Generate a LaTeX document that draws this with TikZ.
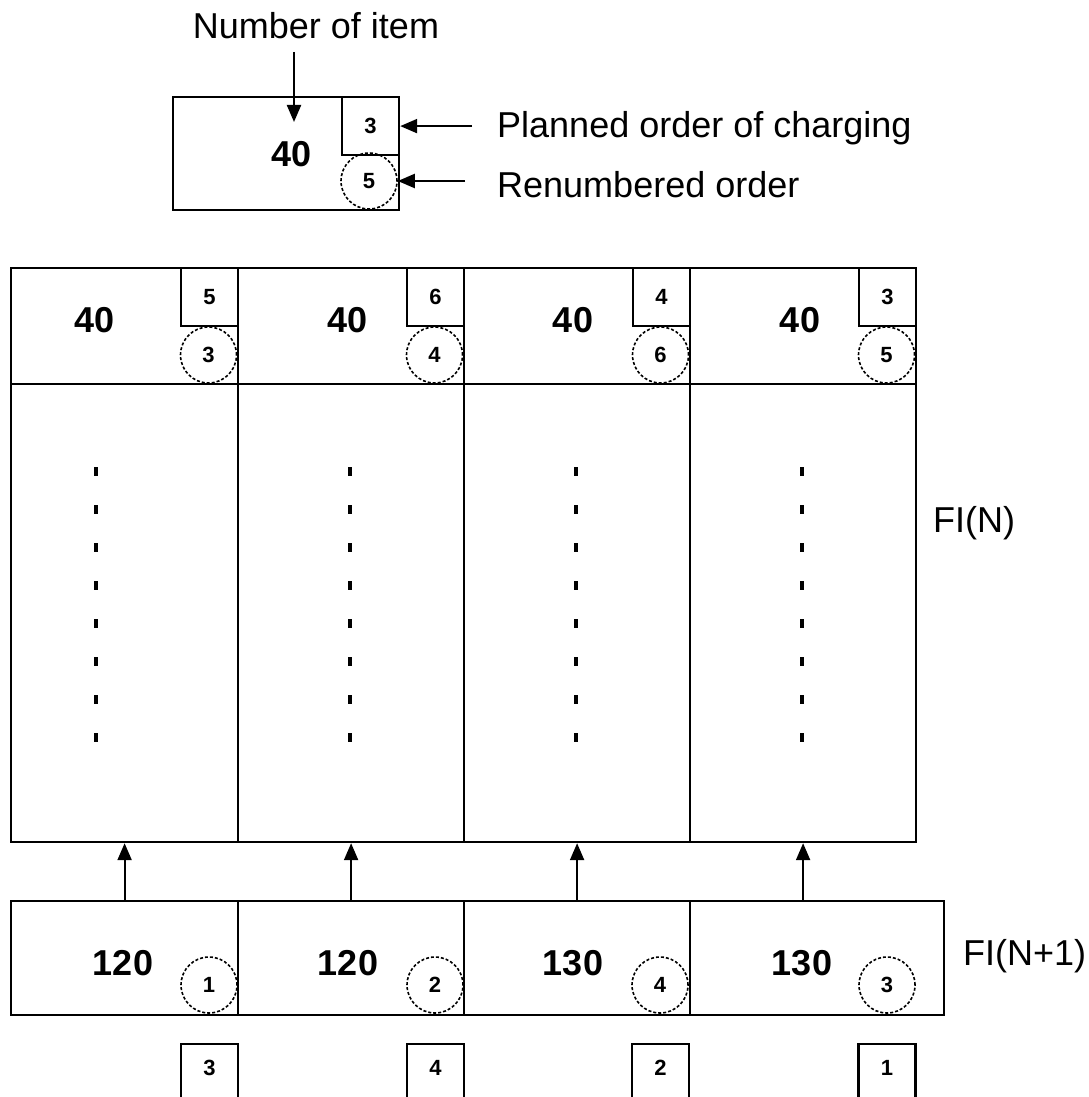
\documentclass[tikz,border=0pt]{standalone}
\usepackage{fontspec}
\setmainfont{Liberation Sans}
\usetikzlibrary{arrows.meta}
\tikzset{
  box/.style={draw, line width=2.2pt, rectangle, inner sep=0pt},
  sqbox/.style={box, minimum width=57pt, minimum height=58pt, font=\bfseries\fontsize{22}{24}\selectfont},
  dcirc/.style={draw, circle, line width=1.6pt, dash pattern=on 3pt off 2pt, inner sep=0pt, minimum size=56pt, font=\bfseries\fontsize{22}{24}\selectfont},
  bignum/.style={inner sep=0pt, font=\bfseries\fontsize{36}{40}\selectfont},
  lbl/.style={inner sep=0pt, font=\fontsize{36}{42}\selectfont},
  arr/.style={line width=2.2pt, -{Triangle[length=17pt,width=14pt]}},
  dotmark/.style={fill=black, draw=none, minimum width=4pt, minimum height=9pt, inner sep=0pt}
}
\begin{document}
\begin{tikzpicture}[x=1pt,y=-1pt]
\useasboundingbox (0,0) rectangle (1088,1097);
\fill[white] (0,0) rectangle (1088,1097);

% ---------- legend ----------
\node[lbl, anchor=base] (ni) at (316,39) {Number of item};
\node[box, minimum width=226pt, minimum height=113pt, anchor=north west] (lbox) at (172,96) {};
\node[sqbox, anchor=north east] (lsq) at (lbox.north east) {3};
\node[dcirc] (lcirc) at (369,181) {5};
\node[bignum] (l40) at (292,154) {40};
\coordinate (niA) at (294,52);
\coordinate (niB) at (294,122);
\draw[arr] (niA) -- (niB);
\node[lbl, anchor=base west] (po) at (497,138) {Planned order of charging};
\node[lbl, anchor=base west] (ro) at (497,197) {Renumbered order};
\coordinate (poA) at (472,124);
\coordinate (roA) at (465,181);
\draw[arr] (poA |- lsq.east) -- (lsq.east);
\draw[arr] (roA |- lcirc.east) -- (lcirc.east);

% ---------- FI(N) ----------
\node[box, minimum width=227pt, minimum height=574pt, anchor=north west] (c1) at (10,267) {};
\node[box, minimum width=226pt, minimum height=574pt, anchor=north west] (c2) at (237,267) {};
\node[box, minimum width=226pt, minimum height=574pt, anchor=north west] (c3) at (463,267) {};
\node[box, minimum width=226pt, minimum height=574pt, anchor=north west] (c4) at (689,267) {};
\coordinate (hl) at (10,384);
\coordinate (hr) at (915,384);
\draw[line width=2.2pt] (hl) -- (hr);

\node[sqbox, anchor=north east] (s1) at (c1.north east) {5};
\node[sqbox, anchor=north east] (s2) at (c2.north east) {6};
\node[sqbox, anchor=north east] (s3) at (c3.north east) {4};
\node[sqbox, anchor=north east] (s4) at (c4.north east) {3};
\node[dcirc] (r1) at (208.5,355) {3};
\node[dcirc] (r2) at (434.5,355) {4};
\node[dcirc] (r3) at (660.5,355) {6};
\node[dcirc] (r4) at (886.5,355) {5};
\node[bignum] (t1) at (95,320) {40};
\node[bignum] (t2) at (348,320) {40};
\node[bignum] (t3) at (573,320) {40};
\node[bignum] (t4) at (800,320) {40};

\foreach \cx [count=\ci] in {96,350,576,802}{
  \foreach \k in {0,...,7}{
    \node[dotmark] (d\ci-\k) at (\cx,471+38*\k) {};
  }
}

\node[lbl, anchor=base west] (fin) at (933,532) {FI(N)};

% ---------- FI(N+1) ----------
\node[box, minimum width=227pt, minimum height=114pt, anchor=north west] (b1) at (10,900) {};
\node[box, minimum width=226pt, minimum height=114pt, anchor=north west] (b2) at (237,900) {};
\node[box, minimum width=226pt, minimum height=114pt, anchor=north west] (b3) at (463,900) {};
\node[box, minimum width=254pt, minimum height=114pt, anchor=north west] (b4) at (689,900) {};
\node[bignum] (n1) at (123,963) {120};
\node[bignum] (n2) at (348,963) {120};
\node[bignum] (n3) at (573,963) {130};
\node[bignum] (n4) at (802,963) {130};
\node[dcirc] (e1) at (209,985) {1};
\node[dcirc] (e2) at (435,985) {2};
\node[dcirc] (e3) at (660,985) {4};
\node[dcirc] (e4) at (887,985) {3};
\node[lbl, anchor=base west] (fin1) at (963,965) {FI(N+1)};

\draw[arr] (b1.north) -- (c1.south);
\draw[arr] (b2.north) -- (c2.south);
\draw[arr] (b3.north) -- (c3.south);
\draw[arr] (b4.north -| c4.south) -- (c4.south);

% ---------- bottom squares ----------
\node[box, minimum width=57pt, minimum height=70pt, anchor=north] (q1) at (209.5,1043) {};
\node[box, minimum width=57pt, minimum height=70pt, anchor=north] (q2) at (435.5,1043) {};
\node[box, minimum width=57pt, minimum height=70pt, anchor=north] (q3) at (660.5,1043) {};
\node[box, minimum width=57pt, minimum height=70pt, anchor=north] (q4) at (887,1043) {};
\node[inner sep=0pt, font=\bfseries\fontsize{22}{24}\selectfont] (qt1) at (209.5,1068) {3};
\node[inner sep=0pt, font=\bfseries\fontsize{22}{24}\selectfont] (qt2) at (435.5,1068) {4};
\node[inner sep=0pt, font=\bfseries\fontsize{22}{24}\selectfont] (qt3) at (660.5,1068) {2};
\node[inner sep=0pt, font=\bfseries\fontsize{22}{24}\selectfont] (qt4) at (887,1068) {1};
\end{tikzpicture}
\end{document}
